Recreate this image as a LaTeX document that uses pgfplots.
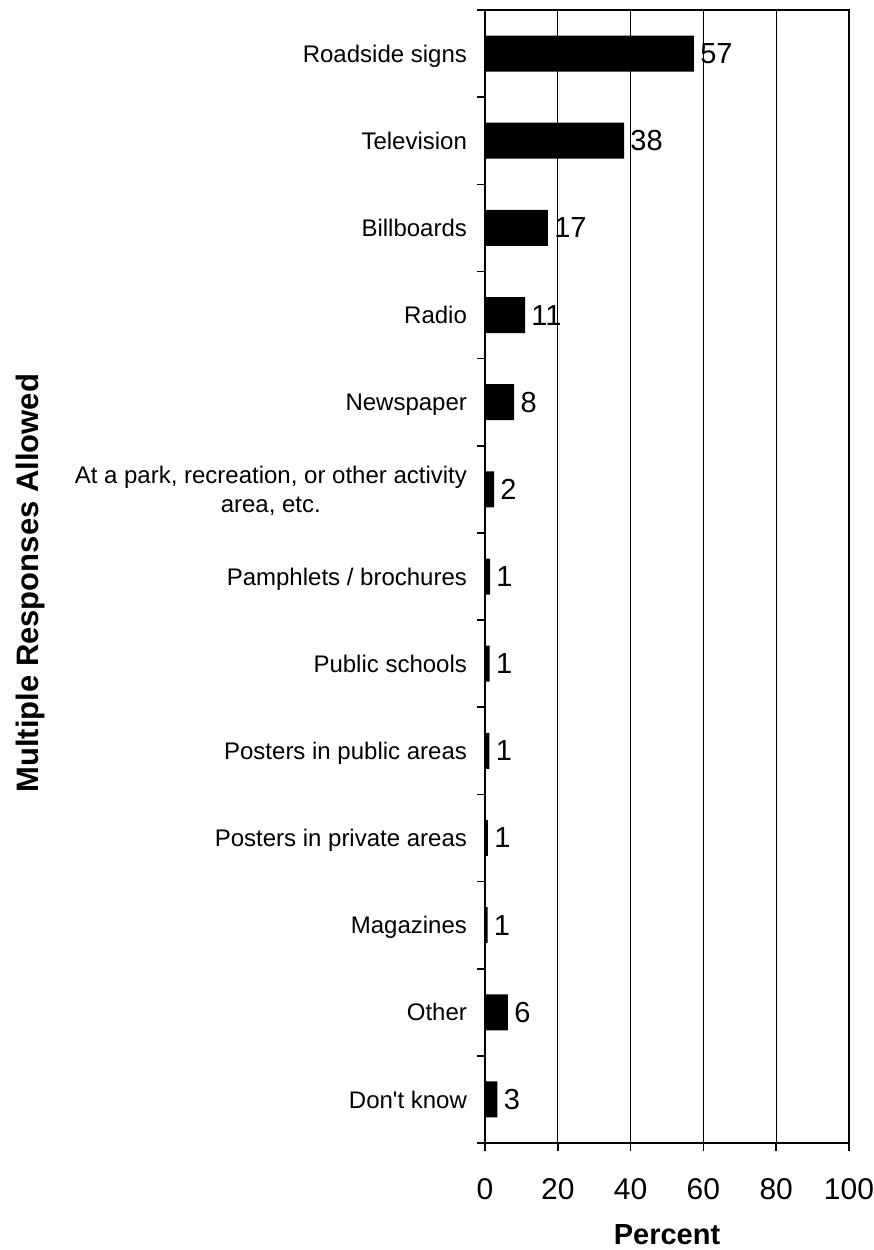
\documentclass[border=0pt]{standalone}
\usepackage{pgfplots}
\pgfplotsset{compat=1.18}
\usepackage{pgfplotstable}
\usepackage{fontspec}
\setmainfont{Liberation Sans}
\pgfplotstableread{
idx val lab
0 57.4 57
1 38.2 38
2 17.3 17
3 11.0 11
4 8.0 8
5 2.5 2
6 1.4 1
7 1.3 1
8 1.2 1
9 0.8 1
10 0.7 1
11 6.3 6
12 3.4 3
}\datatable
\begin{document}
\begin{tikzpicture}
\useasboundingbox (-242.5pt,-53.5pt) rectangle (194.5pt,571.5pt);
\begin{axis}[
  at={(0,0)}, anchor=south west,
  scale only axis,
  width=182pt, height=566.5pt,
  xbar, bar width=18pt,
  xmin=0, xmax=100,
  ymin=-0.5, ymax=12.5,
  y dir=reverse,
  xtick={0,20,...,100},
  ytick={0,...,12},
  yticklabels={Roadside signs,Television,Billboards,Radio,Newspaper,{At a park, recreation, or other activity\\area, etc.},Pamphlets / brochures,Public schools,Posters in public areas,Posters in private areas,Magazines,Other,Don\textquotesingle t know},
  minor ytick={-0.5,0.5,...,12.5},
  tick align=outside,
  major tick length=4pt, minor tick length=4pt,
  xtick pos=bottom, ytick pos=left,
  major y tick style={draw=none},
  minor y tick style={black, line width=0.8pt},
  major x tick style={black, line width=0.8pt},
  xmajorgrids,
  major grid style={black, line width=0.5pt},
  axis line style={black, line width=0.9pt},
  /pgf/number format/assume math mode=true,
  xticklabel style={font=\fontsize{15}{17}\selectfont, anchor=center, yshift=-19pt},
  yticklabel style={font=\fontsize{12}{14.5}\selectfont, align=center, xshift=-1.5pt, text depth=0pt},
  xlabel={Percent},
  xlabel style={font=\fontsize{14.5}{16}\selectfont\bfseries, at={(axis description cs:0.5,-0.0812)}, anchor=center},
  ylabel={Multiple Responses Allowed},
  ylabel style={font=\fontsize{15.5}{17}\selectfont\bfseries, at={(axis description cs:-1.25,0.494)}, anchor=center},
  nodes near coords,
  point meta=explicit symbolic,
  nodes near coords style={font=\fontsize{14.5}{16}\selectfont, anchor=west, inner sep=3pt},
  clip=false,
]
\addplot[fill=black, draw=none] table[x=val, y=idx, meta=lab] {\datatable};
\end{axis}
\end{tikzpicture}
\end{document}
